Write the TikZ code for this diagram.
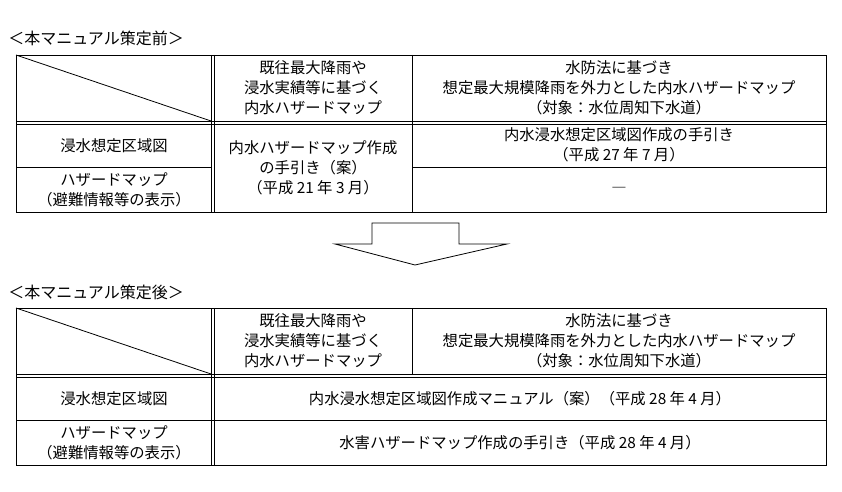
\documentclass[tikz,border=0pt]{standalone}
\usepackage{fontspec}
\newfontfamily\cjk{Noto Sans CJK JP}
\usetikzlibrary{positioning}
\begin{document}
\begin{tikzpicture}[x=0.75pt,y=-0.75pt]
	\tikzset{cell/.style={align=center, font=\cjk\fontsize{11.5}{15}\selectfont, inner sep=0pt}};
	\tikzset{title/.style={anchor=west, font=\cjk\fontsize{12}{15}\selectfont, inner sep=0pt}};
	\tikzset{rule/.style={line width=0.6pt}};
	\useasboundingbox (0,0) rectangle (842,492);
	% before
	\node [title] (t1) at (8,38) {＜本マニュアル策定前＞};
	\draw [rule] (16,55) rectangle (826,212);
	\draw [rule] (16,55) -- (211,121);
	\draw [rule] (211,55) -- (211,212) (214,55) -- (214,212);
	\draw [rule] (412,55) -- (412,212);
	\draw [rule] (16,121) -- (826,121) (16,124) -- (826,124);
	\draw [rule] (16,167) -- (211,167) (412,167) -- (826,167);
	\node [cell] (h1a) at (313,88) {既往最大降雨や\\浸水実績等に基づく\\内水ハザードマップ};
	\node [cell] (h1b) at (619,88) {水防法に基づき\\想定最大規模降雨を外力とした内水ハザードマップ\\（対象：水位周知下水道）};
	\node [cell] (r1a) at (114,146) {浸水想定区域図};
	\node [cell] (r1b) at (114,190) {ハザードマップ\\（避難情報等の表示）};
	\node [cell] (c1a) at (313,168) {内水ハザードマップ作成\\の手引き（案）\\（平成 21 年 3 月）};
	\node [cell] (c1b) at (619,145) {内水浸水想定区域図作成の手引き\\（平成 27 年 7 月）};
	\node [cell] (c1c) at (619,190) {―};
	% arrow
	\draw [rule] (372,223) -- (459,223) -- (459,244) -- (507,244) -- (415,265) -- (335,244) -- (372,244) -- cycle;
	% after
	\node [title] (t2) at (8,292) {＜本マニュアル策定後＞};
	\draw [rule] (16,308) rectangle (826,465);
	\draw [rule] (16,308) -- (211,374);
	\draw [rule] (211,308) -- (211,465) (214,308) -- (214,465);
	\draw [rule] (412,308) -- (412,374);
	\draw [rule] (16,374) -- (826,374) (16,377) -- (826,377);
	\draw [rule] (16,420) -- (826,420);
	\node [cell] (h2a) at (313,341) {既往最大降雨や\\浸水実績等に基づく\\内水ハザードマップ};
	\node [cell] (h2b) at (619,341) {水防法に基づき\\想定最大規模降雨を外力とした内水ハザードマップ\\（対象：水位周知下水道）};
	\node [cell] (r2a) at (114,399) {浸水想定区域図};
	\node [cell] (r2b) at (114,443) {ハザードマップ\\（避難情報等の表示）};
	\node [cell] (c2a) at (520,399) {内水浸水想定区域図作成マニュアル（案）（平成 28 年 4 月）};
	\node [cell] (c2b) at (520,443) {水害ハザードマップ作成の手引き（平成 28 年 4 月）};
\end{tikzpicture}
\end{document}
